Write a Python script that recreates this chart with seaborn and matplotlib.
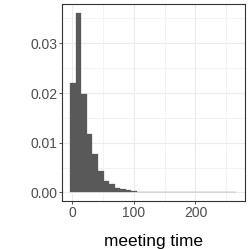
import numpy as np
import pandas as pd
import seaborn as sns
import matplotlib.pyplot as plt
from matplotlib.ticker import MultipleLocator

# histogram of meeting time (density), 30 bins of width 9 starting at -3.5
bin_edges = [-3.5 + 9 * k for k in range(31)]
density = [0.0220, 0.0361, 0.0199, 0.0117, 0.0077, 0.0044, 0.0024, 0.0018,
           0.0010, 0.0007, 0.00045, 0.00025, 0.00015, 0.0001, 0.00007,
           0.00005, 0.00004, 0.00003, 0.000015, 0.00001, 0.000008, 0.000006,
           0.000005, 0.000005, 0.000004, 0.000004, 0.000003, 0.000003,
           0.000003, 0.000003]
x_ticks = [0, 100, 200]
y_ticks = [0.00, 0.01, 0.02, 0.03]
y_tick_labels = ["0.00", "0.01", "0.02", "0.03"]

centers = [(a + b) / 2 for a, b in zip(bin_edges[:-1], bin_edges[1:])]
df = pd.DataFrame({"meeting time": centers, "density": density})

sns.set_theme(style="white")
plt.rcParams['font.family'] = ['Liberation Sans', 'DejaVu Sans']

fig = plt.figure(figsize=(2.49, 2.49), dpi=100)
ax = fig.add_axes([0.249, 0.191, 0.736, 0.793])

sns.histplot(data=df, x="meeting time", weights="density", bins=bin_edges,
             stat="count", color="#595959", alpha=1, edgecolor="#595959",
             linewidth=0.2, ax=ax, zorder=3)

ax.set_xlim(-17.0, 281.0)
ax.set_ylim(-0.0018, 0.0379)
ax.set_xticks(x_ticks)
ax.xaxis.set_minor_locator(MultipleLocator(50))
ax.set_yticks(y_ticks)
ax.set_yticklabels(y_tick_labels)
ax.yaxis.set_minor_locator(MultipleLocator(0.005))

ax.grid(True, which="major", color="#EBEBEB", linewidth=0.8, zorder=0)
ax.grid(True, which="minor", color="#EBEBEB", linewidth=0.4, zorder=0)
ax.set_axisbelow(True)

for s in ax.spines.values():
    s.set_color("#333333")
    s.set_linewidth(0.8)

ax.tick_params(axis="both", which="major", length=2.2, width=0.6,
               color="#333333", labelcolor="#4D4D4D", labelsize=10,
               pad=1.2, bottom=True, left=True)
ax.tick_params(which="minor", length=0)

ax.set_ylabel("")
ax.set_xlabel("meeting time", fontsize=12.4, color="black", labelpad=10)

fig.savefig("out.png", dpi=100)
